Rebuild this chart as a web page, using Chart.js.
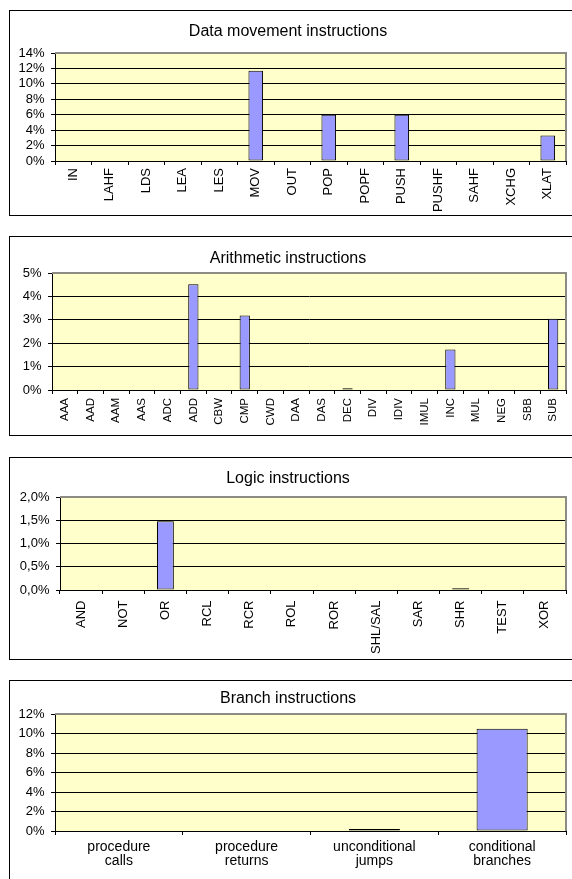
<!DOCTYPE html>
<html>
<head>
<meta charset="utf-8">
<script src="https://cdn.jsdelivr.net/npm/chart.js@4/dist/chart.umd.min.js"></script>
<style>
  html, body { margin: 0; padding: 0; background: #fff; }
  body { width: 572px; height: 879px; position: relative; overflow: hidden; }
  .panel { position: absolute; left: 9px; width: 620px; border: 1px solid #000; background: #fff; box-sizing: border-box; }
  canvas { position: absolute; left: 10px; }
</style>
</head>
<body>
<div class="panel" style="top:10px;height:206px"></div>
<div class="panel" style="top:236px;height:200px"></div>
<div class="panel" style="top:457px;height:203px"></div>
<div class="panel" style="top:680px;height:260px"></div>
<canvas id="dataMove" width="562" height="204" style="top:11px"></canvas>
<canvas id="arith" width="562" height="198" style="top:237px"></canvas>
<canvas id="logic" width="562" height="201" style="top:458px"></canvas>
<canvas id="branch" width="562" height="198" style="top:681px"></canvas>
<script>
// Instruction frequencies, in percent of all executed instructions
const dataMoveLabels = ['IN', 'LAHF', 'LDS', 'LEA', 'LES', 'MOV', 'OUT', 'POP', 'POPF', 'PUSH', 'PUSHF', 'SAHF', 'XCHG', 'XLAT'];
const dataMoveValues = [0, 0, 0, 0, 0, 11.7, 0, 6.0, 0, 6.0, 0, 0, 0, 3.3];
const dataMoveTicks = [0, 2, 4, 6, 8, 10, 12, 14];

const arithLabels = ['AAA', 'AAD', 'AAM', 'AAS', 'ADC', 'ADD', 'CBW', 'CMP', 'CWD', 'DAA', 'DAS', 'DEC', 'DIV', 'IDIV', 'IMUL', 'INC', 'MUL', 'NEG', 'SBB', 'SUB'];
const arithValues = [0, 0, 0, 0, 0, 4.52, 0, 3.18, 0, 0, 0, 0.08, 0, 0, 0, 1.73, 0, 0, 0, 3.05];
const arithTicks = [0, 1, 2, 3, 4, 5];

const logicLabels = ['AND', 'NOT', 'OR', 'RCL', 'RCR', 'ROL', 'ROR', 'SHL/SAL', 'SAR', 'SHR', 'TEST', 'XOR'];
const logicValues = [0, 0, 1.48, 0, 0, 0, 0, 0, 0, 0.04, 0, 0];
const logicTicks = [0, 0.5, 1.0, 1.5, 2.0];

const branchLabels = [['procedure', 'calls'], ['procedure', 'returns'], ['unconditional', 'jumps'], ['conditional', 'branches']];
const branchValues = [0, 0, 0.2, 10.5];
const branchTicks = [0, 2, 4, 6, 8, 10, 12];

const FONT = "'Liberation Sans', Arial, sans-serif";

// Pale yellow plot area with a grey frame on top and right
const plotFrame = {
  id: 'plotFrame',
  beforeDraw(chart) {
    const { ctx, chartArea: a } = chart;
    ctx.save();
    ctx.fillStyle = '#FFFFCC';
    ctx.fillRect(a.left, a.top, a.right - a.left, a.bottom - a.top);
    ctx.restore();
  },
  beforeDatasetsDraw(chart) {
    const { ctx, chartArea: a } = chart;
    ctx.save();
    ctx.strokeStyle = '#8c8c84';
    ctx.lineWidth = 2;
    ctx.beginPath();
    ctx.moveTo(a.left, a.top);
    ctx.lineTo(a.right, a.top);
    ctx.lineTo(a.right, a.bottom);
    ctx.stroke();
    ctx.restore();
  }
};

function makePanel(id, title, labels, values, ticks, fmt, lay) {
  const max = ticks[ticks.length - 1];
  return new Chart(document.getElementById(id), {
    type: 'bar',
    data: {
      labels: labels,
      datasets: [{
        data: values,
        backgroundColor: '#9999FF',
        borderColor: '#000',
        borderWidth: 1,
        borderSkipped: false,
        categoryPercentage: 1,
        barPercentage: 0.4
      }]
    },
    options: {
      responsive: false,
      animation: false,
      events: [],
      layout: { padding: { left: 0, right: 6, top: 0, bottom: 0 } },
      plugins: {
        legend: { display: false },
        tooltip: { enabled: false },
        title: {
          display: true,
          text: title,
          color: '#000',
          font: { family: FONT, size: 16, weight: 'normal', lineHeight: 1.2 },
          padding: { top: lay.titleTop, bottom: lay.titleBottom }
        }
      },
      scales: {
        x: {
          grid: { offset: true, drawOnChartArea: false, drawTicks: true, tickLength: 4, color: '#000' },
          border: { color: '#000', width: 1 },
          ticks: {
            color: '#000',
            autoSkip: false,
            minRotation: lay.rot,
            maxRotation: lay.rot,
            padding: lay.xPad,
            font: { family: FONT, size: lay.xFont, lineHeight: lay.xLine || 1.2 }
          },
          afterFit(scale) {
            scale.height = lay.xHeight;
            scale.paddingLeft = 0;
            scale.paddingRight = 0;
          }
        },
        y: {
          min: 0,
          max: max,
          grid: { color: '#000', lineWidth: 1, drawTicks: true, tickLength: 4 },
          border: { color: '#000', width: 1 },
          ticks: {
            autoSkip: false,
            color: '#000',
            padding: 6.5,
            font: { family: FONT, size: 13 },
            callback: fmt
          },
          afterBuildTicks(scale) {
            scale.ticks = ticks.map(v => ({ value: v }));
          },
          afterFit(scale) {
            scale.width = lay.yWidth;
          }
        }
      }
    },
    plugins: [plotFrame]
  });
}

const pct = v => v + '%';
const pctComma = v => v.toFixed(1).replace('.', ',') + '%';

makePanel('dataMove', 'Data movement instructions', dataMoveLabels, dataMoveValues, dataMoveTicks, pct,
  { titleTop: 11.4, titleBottom: 11.4, yWidth: 45, xHeight: 54, rot: 90, xPad: 3, xFont: 13 });
makePanel('arith', 'Arithmetic instructions', arithLabels, arithValues, arithTicks, pct,
  { titleTop: 12.4, titleBottom: 4.4, yWidth: 42, xHeight: 45, rot: 90, xPad: 4, xFont: 11.5 });
makePanel('logic', 'Logic instructions', logicLabels, logicValues, logicTicks, pctComma,
  { titleTop: 11.4, titleBottom: 8.4, yWidth: 50, xHeight: 69, rot: 90, xPad: 6.5, xFont: 13 });
makePanel('branch', 'Branch instructions', branchLabels, branchValues, branchTicks, pct,
  { titleTop: 8.4, titleBottom: 5.4, yWidth: 45, xHeight: 48, rot: 0, xPad: 5, xFont: 14, xLine: 1.03 });
</script>
</body>
</html>
